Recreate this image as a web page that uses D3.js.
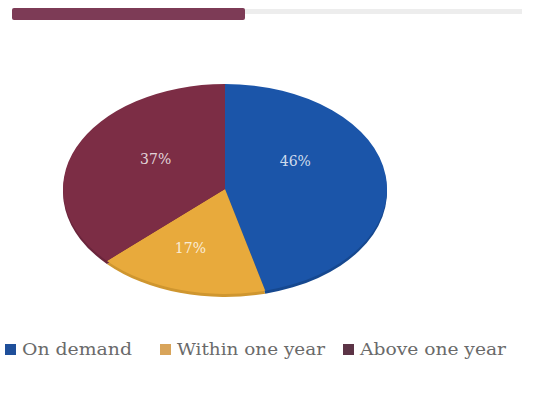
<!DOCTYPE html>
<html>
<head>
<meta charset="utf-8">
<script src="https://cdn.jsdelivr.net/npm/d3@7"></script>
<style>
  body { margin: 0; background: #fff; }
  svg { display: block; }
</style>
</head>
<body>
<svg></svg>
<script>
const categories = ['On demand', 'Within one year', 'Above one year']
const values = [46, 17, 37]
const labels = ['46%', '17%', '37%']

const colors = ['#1b55a9', '#e8aa3c', '#7c2d45']
const sideColors = ['#16488f', '#cf962f', '#6a253c']
const legendColors = ['#1f4f9a', '#d8a45a', '#5c3446']

const w = 536
const h = 415
const cx = 225
const cy = 189
const rx = 162
const ry = 105

// label nudges (pixels) relative to the slice centroid
const labelShift = [[-10, -20], [-12, 10], [5, -8]]
const legendX = [5, 160, 343]
const legendWidth = [110, 148, 146]

let svg = d3.select('svg')
    .attr('width', w)
    .attr('height', h)

// header bar
svg.append('rect')
   .attr('x', 244).attr('y', 9)
   .attr('width', 278).attr('height', 5)
   .attr('fill', '#ededed')
svg.append('rect')
   .attr('x', 12).attr('y', 8)
   .attr('width', 233).attr('height', 12)
   .attr('rx', 2)
   .attr('fill', '#7d3b56')

let data = categories.map((c, i) => ({ name: c, value: values[i], label: labels[i], i: i }))

let pie = d3.pie()
            .value(d => d.value)
            .sort(null)

let arc = d3.arc()
            .innerRadius(0)
            .outerRadius(rx)

let arcs = pie(data)

// thin side (3d rim)
svg.append('g')
   .attr('transform', `translate(${cx}, ${cy + 3}) scale(1, ${ry / rx})`)
   .selectAll('path')
   .data(arcs)
   .enter()
   .append('path')
   .attr('d', arc)
   .attr('fill', d => sideColors[d.data.i])

svg.append('g')
   .attr('transform', `translate(${cx}, ${cy}) scale(1, ${ry / rx})`)
   .selectAll('path')
   .data(arcs)
   .enter()
   .append('path')
   .attr('d', arc)
   .attr('fill', d => colors[d.data.i])

let labelArc = d3.arc()
                 .innerRadius(rx * 0.5)
                 .outerRadius(rx * 0.5)

svg.append('g')
   .selectAll('text')
   .data(arcs)
   .enter()
   .append('text')
   .attr('x', d => cx + labelArc.centroid(d)[0] + labelShift[d.data.i][0])
   .attr('y', d => cy + labelArc.centroid(d)[1] * ry / rx + labelShift[d.data.i][1])
   .attr('text-anchor', 'middle')
   .attr('dominant-baseline', 'middle')
   .attr('fill', '#fff')
   .attr('fill-opacity', 0.8)
   .style('font-family', '"DejaVu Serif", "Liberation Serif", serif')
   .style('font-size', '14px')
   .text(d => d.data.label)

// legend
let legend = svg.append('g')
                .selectAll('g')
                .data(data)
                .enter()
                .append('g')
                .attr('transform', (d, i) => `translate(${legendX[i]}, 344)`)

legend.append('rect')
      .attr('width', 11)
      .attr('height', 11)
      .attr('fill', d => legendColors[d.i])

legend.append('text')
      .attr('x', 17)
      .attr('y', 11)
      .attr('fill', '#6a6a6a')
      .attr('textLength', d => legendWidth[d.i])
      .attr('lengthAdjust', 'spacingAndGlyphs')
      .style('font-family', '"DejaVu Serif", "Liberation Serif", serif')
      .style('font-size', '16px')
      .text(d => d.name)
</script>
</body>
</html>
